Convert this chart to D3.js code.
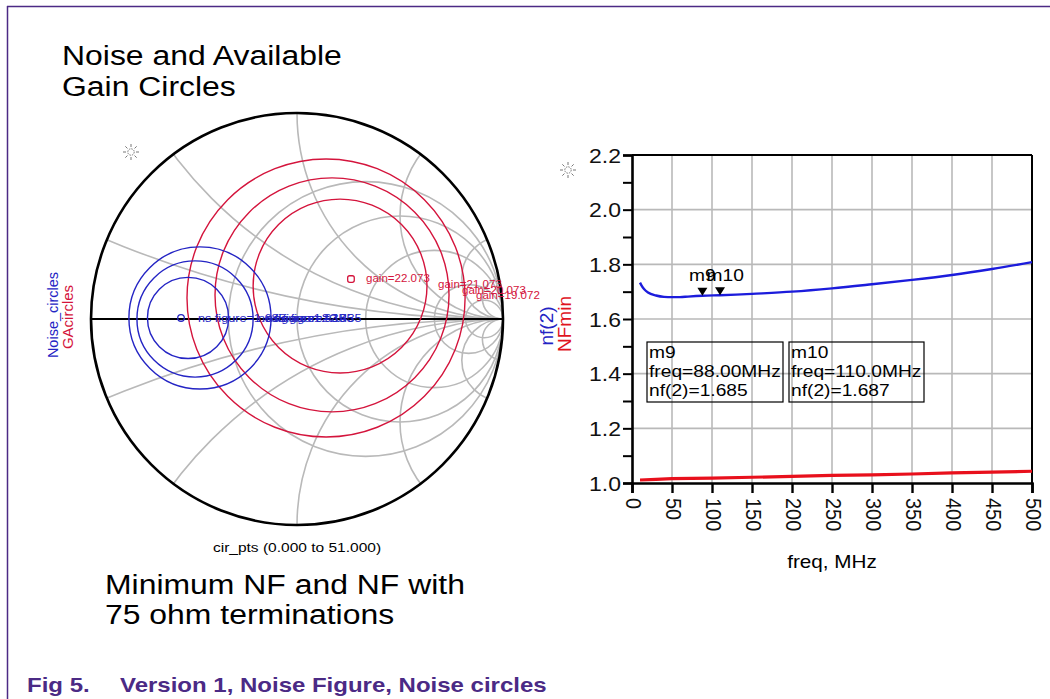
<!DOCTYPE html>
<html><head><meta charset="utf-8">
<script src="https://cdn.jsdelivr.net/npm/d3@7"></script>
<style>
body{margin:0;background:#fff}
svg{display:block}
text{font-family:"Liberation Sans",Arial,Helvetica,sans-serif}
</style>
</head><body>
<svg id="c" width="1050" height="699"></svg>
<script>
// ---------------- DATA ----------------
// Right chart: noise figure vs frequency
const nfFreq = [10, 12, 15, 20, 30, 40, 50, 60, 70, 88, 110, 130, 150, 200, 250, 300, 350, 400, 450, 500];
const nf2    = [1.733, 1.722, 1.710, 1.697, 1.686, 1.681, 1.680, 1.680, 1.682, 1.685, 1.687, 1.689, 1.692, 1.700, 1.712, 1.727, 1.743, 1.761, 1.783, 1.808];
const nfminFreq = [10, 30, 50, 100, 150, 200, 250, 300, 350, 400, 450, 500];
const nfmin     = [1.011, 1.013, 1.016, 1.018, 1.021, 1.024, 1.028, 1.030, 1.033, 1.037, 1.040, 1.043];
const markerNames = ["m9", "m10"];
const markerFreq  = [88, 110];
const markerNF    = [1.685, 1.687];
const markerFreqText = ["88.00MHz", "110.0MHz"];
const yTicks      = [1.0, 1.2, 1.4, 1.6, 1.8, 2.0, 2.2];
const yMinorTicks = [1.1, 1.3, 1.5, 1.7, 1.9, 2.1];
const xTicks      = [0, 50, 100, 150, 200, 250, 300, 350, 400, 450, 500];

// Smith chart grid (normalised resistance circles / reactance arcs)
const rCircles = [0.5, 1, 2, 5, 10];
const xArcs    = [0.2, 0.5, 1, 2, 5, 10];

// Noise circles (reflection-coefficient plane)
const noiseRe  = [-0.529, -0.495, -0.471];
const noiseIm  = [0.005, 0.0, 0.005];
const noiseRad = [0.197, 0.282, 0.345];
const noiseMarker = [-0.563, 0.005];
const noiseLabels = ["ns figure=1.685", "ns figure=1.935", "ns figure=2.185", "ns figure=2.435"];

// Available gain circles
const gainRe  = [0.209, 0.170, 0.141];
const gainIm  = [0.160, 0.117, 0.102];
const gainRad = [0.422, 0.568, 0.675];
const gainMarker = [0.262, 0.194];
const gainLabels = ["gain=22.073", "gain=21.073", "gain=20.073", "gain=19.072"];

// ---------------- DRAW ----------------
const svg = d3.select("#c");
const FONT = '"Liberation Sans",Arial,Helvetica,sans-serif';
const PURPLE = "#4b2a85";
const BLUE = "#2424c4";
const RED = "#d4143c";
const GRID = "#b9b9b9";

function txt(g, x, y, s, o) {
  o = o || {};
  const t = g.append("text")
    .attr("transform", `translate(${x},${y})` + (o.rot ? ` rotate(${o.rot})` : "") + ` scale(${o.sx || 1.14},1)`)
    .attr("font-size", o.size || 14)
    .attr("fill", o.fill || "#000")
    .attr("text-anchor", o.anchor || "start")
    .attr("font-weight", o.weight || "normal")
    .text(s);
  if (o.dy) t.attr("dy", o.dy);
  return t;
}

// page border
svg.append("line").attr("x1", 7).attr("x2", 1050).attr("y1", 6.5).attr("y2", 6.5).attr("stroke", PURPLE).attr("stroke-width", 1.5);
svg.append("line").attr("x1", 7.5).attr("x2", 7.5).attr("y1", 6).attr("y2", 699).attr("stroke", PURPLE).attr("stroke-width", 1.5);

// titles
txt(svg, 62, 65, "Noise and Available", {size: 28});
txt(svg, 62, 96, "Gain Circles", {size: 28});
txt(svg, 105, 594, "Minimum NF and NF with", {size: 28});
txt(svg, 105, 624, "75 ohm terminations", {size: 28});
txt(svg, 27, 692, "Fig 5.", {size: 20, weight: "bold", fill: PURPLE, sx: 1.2});
txt(svg, 120, 692, "Version 1, Noise Figure, Noise circles", {size: 20, weight: "bold", fill: PURPLE, sx: 1.2});

// sun icons
function sun(x, y) {
  const g = svg.append("g").attr("transform", `translate(${x},${y})`);
  g.append("circle").attr("r", 3.2).attr("fill", "none").attr("stroke", "#777").attr("stroke-width", 1).attr("stroke-dasharray", "1.5,1");
  d3.range(8).forEach(i => {
    const a = i * Math.PI / 4;
    g.append("line").attr("x1", Math.cos(a) * 5).attr("y1", Math.sin(a) * 5)
      .attr("x2", Math.cos(a) * 8).attr("y2", Math.sin(a) * 8)
      .attr("stroke", "#777").attr("stroke-width", 1);
  });
}
sun(131, 152);
sun(568, 170);

// ---------------- SMITH CHART ----------------
const sx = d3.scaleLinear().domain([-1, 1]).range([91, 503]);
const sy = d3.scaleLinear().domain([-1, 1]).range([525, 113]);
const R = sx(1) - sx(0);
const rad = v => sx(v) - sx(0);

svg.append("clipPath").attr("id", "unit").append("circle")
  .attr("cx", sx(0)).attr("cy", sy(0)).attr("r", R);

const grid = svg.append("g").attr("clip-path", "url(#unit)")
  .attr("fill", "none").attr("stroke", GRID).attr("stroke-width", 1.6);

grid.selectAll("circle.r").data(rCircles).join("circle").attr("class", "r")
  .attr("cx", d => sx(d / (1 + d))).attr("cy", sy(0)).attr("r", d => rad(1 / (1 + d)));

const xs = xArcs.flatMap(v => [v, -v]);
grid.selectAll("circle.x").data(xs).join("circle").attr("class", "x")
  .attr("cx", sx(1)).attr("cy", d => sy(1 / d)).attr("r", d => rad(1 / Math.abs(d)));

// real axis & outer boundary
svg.append("line").attr("x1", sx(-1)).attr("x2", sx(1)).attr("y1", sy(0)).attr("y2", sy(0))
  .attr("stroke", "#000").attr("stroke-width", 2.2);
svg.append("circle").attr("cx", sx(0)).attr("cy", sy(0)).attr("r", R)
  .attr("fill", "none").attr("stroke", "#000").attr("stroke-width", 2.6);

// gain circles
const gainData = gainRe.map((v, i) => ({re: v, im: gainIm[i], r: gainRad[i]}));
svg.append("g").selectAll("circle").data(gainData).join("circle")
  .attr("cx", d => sx(d.re)).attr("cy", d => sy(d.im)).attr("r", d => rad(d.r))
  .attr("fill", "none").attr("stroke", RED).attr("stroke-width", 1.4);

// noise circles
const noiseData = noiseRe.map((v, i) => ({re: v, im: noiseIm[i], r: noiseRad[i]}));
svg.append("g").selectAll("circle").data(noiseData).join("circle")
  .attr("cx", d => sx(d.re)).attr("cy", d => sy(d.im)).attr("r", d => rad(d.r))
  .attr("fill", "none").attr("stroke", BLUE).attr("stroke-width", 1.4);

// markers
svg.append("circle").attr("cx", sx(noiseMarker[0])).attr("cy", sy(noiseMarker[1])).attr("r", 3.3)
  .attr("fill", "none").attr("stroke", BLUE).attr("stroke-width", 1.3);
svg.append("rect").attr("x", sx(gainMarker[0]) - 3.3).attr("y", sy(gainMarker[1]) - 3.3)
  .attr("width", 6.6).attr("height", 6.6).attr("rx", 2)
  .attr("fill", "none").attr("stroke", RED).attr("stroke-width", 1.3);

// labels on circles
const noiseLabX = [198, 258, 266, 274];
noiseLabels.forEach((s, i) => txt(svg, noiseLabX[i], 322, s, {size: 11.5, fill: BLUE, sx: 1.1}));
const gainLabX = [366, 438, 462, 476];
const gainLabY = [282, 288, 294, 299];
gainLabels.forEach((s, i) => txt(svg, gainLabX[i], gainLabY[i], s, {size: 11, fill: RED, sx: 1.05}));

// smith side labels
txt(svg, 53, 315, "Noise_circles", {size: 14.5, fill: BLUE, rot: -90, anchor: "middle", dy: "0.35em", sx: 1});
txt(svg, 68, 317, "GAcircles", {size: 15, fill: RED, rot: -90, anchor: "middle", dy: "0.35em", sx: 1});
txt(svg, 297, 552, "cir_pts (0.000 to 51.000)", {size: 13.5, anchor: "middle", sx: 1.15});

// ---------------- RIGHT CHART ----------------
const x = d3.scaleLinear().domain([0, 500]).range([632, 1032]);
const y = d3.scaleLinear().domain([1.0, 2.2]).range([483, 155]);

const pg = svg.append("g");
// grid
pg.selectAll("line.vg").data(xTicks.slice(1, -1)).join("line").attr("class", "vg")
  .attr("x1", d => x(d)).attr("x2", d => x(d)).attr("y1", y(1.0)).attr("y2", y(2.2))
  .attr("stroke", GRID).attr("stroke-width", 1.6);
pg.selectAll("line.hg").data(yTicks.slice(1, -1)).join("line").attr("class", "hg")
  .attr("x1", x(0)).attr("x2", x(500)).attr("y1", d => y(d)).attr("y2", d => y(d))
  .attr("stroke", GRID).attr("stroke-width", 1.6);

// frame top/right
pg.append("line").attr("x1", x(0)).attr("x2", x(500)).attr("y1", y(2.2)).attr("y2", y(2.2)).attr("stroke", "#000").attr("stroke-width", 2);
pg.append("line").attr("x1", x(500)).attr("x2", x(500)).attr("y1", y(2.2)).attr("y2", y(1.0)).attr("stroke", "#000").attr("stroke-width", 2);

// curves
const line = d3.line().x(d => x(d[0])).y(d => y(d[1]));
pg.append("path").datum(nfminFreq.map((f, i) => [f, nfmin[i]])).attr("d", line)
  .attr("fill", "none").attr("stroke", "#e8101c").attr("stroke-width", 3.2);
pg.append("path").datum(nfFreq.map((f, i) => [f, nf2[i]])).attr("d", line.curve(d3.curveMonotoneX))
  .attr("fill", "none").attr("stroke", "#1c1cdc").attr("stroke-width", 2.4);

// y axis
const yAxis = pg.append("g").attr("transform", `translate(${x(0)},0)`)
  .call(d3.axisLeft(y).tickValues(yTicks).tickSize(9).tickFormat(d3.format(".1f")));
yAxis.select(".domain").attr("stroke-width", 2.6);
yAxis.selectAll(".tick line").attr("stroke-width", 2);
yAxis.selectAll(".tick text").attr("x", null).attr("dy", null).attr("font-size", 20)
  .attr("font-family", FONT).attr("fill", "#111")
  .attr("transform", "translate(-11,7) scale(1.15,1)");
const yMinor = pg.append("g").attr("transform", `translate(${x(0)},0)`)
  .call(d3.axisLeft(y).tickValues(yMinorTicks).tickSize(9).tickFormat(""));
yMinor.select(".domain").remove();
yMinor.selectAll(".tick line").attr("stroke-width", 2);

// x axis
const xAxis = pg.append("g").attr("transform", `translate(0,${y(1.0)})`)
  .call(d3.axisBottom(x).tickValues(xTicks).tickSize(10));
xAxis.select(".domain").attr("stroke-width", 2.6);
xAxis.selectAll(".tick line").attr("stroke-width", 2.4);
xAxis.selectAll(".tick text").attr("y", null).attr("dy", null)
  .attr("font-size", 20).attr("font-family", FONT).attr("fill", "#111")
  .attr("text-anchor", "start")
  .attr("transform", "translate(-7,15) rotate(90) scale(1,1.12)");

// axis titles
txt(svg, 832, 568, "freq, MHz", {size: 18, anchor: "middle", sx: 1.15});
txt(svg, 546, 326, "nf(2)", {size: 19, fill: BLUE, rot: -90, anchor: "middle", dy: "0.35em", sx: 1});
txt(svg, 564, 324, "NFmin", {size: 19, fill: "#e0141e", rot: -90, anchor: "middle", dy: "0.35em", sx: 1});

// markers on curve
markerFreq.forEach((f, i) => {
  const mx = x(f), my = y(markerNF[i]);
  pg.append("path").attr("d", `M${mx - 5},${my - 8}L${mx + 5},${my - 8}L${mx},${my}Z`).attr("fill", "#000");
  txt(pg, mx - 13.5, 281, markerNames[i], {size: 17, sx: 1.13});
});

// marker readout boxes
const boxX = [647, 789], boxW = [136, 135];
markerNames.forEach((m, i) => {
  const g = pg.append("g");
  g.append("rect").attr("x", boxX[i]).attr("y", 342).attr("width", boxW[i]).attr("height", 60)
    .attr("fill", "none").attr("stroke", "#000").attr("stroke-width", 1.2);
  txt(g, boxX[i] + 2, 358, m, {size: 17, sx: 1.13});
  txt(g, boxX[i] + 2, 377, "freq=" + markerFreqText[i], {size: 17, sx: 1.13});
  txt(g, boxX[i] + 2, 396, "nf(2)=" + markerNF[i].toFixed(3), {size: 17, sx: 1.13});
});
</script>
</body></html>
